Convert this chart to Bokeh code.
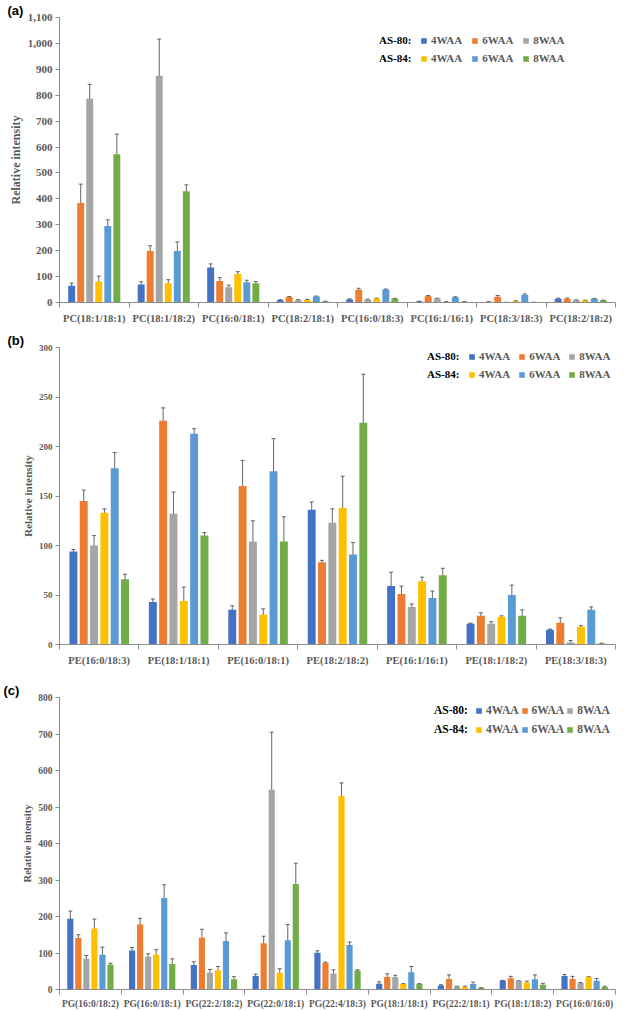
from bokeh.plotting import figure
from bokeh.layouts import column
from bokeh.models import (ColumnDataSource, Range1d, FixedTicker, Whisker, TeeHead,
                          Legend, LegendItem, NumeralTickFormatter)
from bokeh.transform import dodge
from bokeh.embed import file_html
from bokeh.resources import INLINE
import numpy as np

# ---------------- data ----------------
series_groups = ["AS-80:", "AS-84:"]
series_labels = ["4WAA", "6WAA", "8WAA", "4WAA", "6WAA", "8WAA"]
series_colors = ["#4472C4", "#ED7D31", "#A5A5A5", "#FFC000", "#5B9BD5", "#70AD47"]

pc_cats = ["PC(18:1/18:1)", "PC(18:1/18:2)", "PC(16:0/18:1)", "PC(18:2/18:1)",
           "PC(16:0/18:3)", "PC(16:1/16:1)", "PC(18:3/18:3)", "PC(18:2/18:2)"]
pc_as80_4 = [65, 69, 135, 9, 12, 4, 2, 14]
pc_as80_6 = [384, 199, 83, 21, 49, 24, 22, 14]
pc_as80_8 = [786, 875, 59, 9, 11, 15, 0.5, 9]
pc_as84_4 = [81, 74, 110, 10, 15, 2, 5, 8]
pc_as84_6 = [295, 199, 78, 23, 50, 20, 30, 14]
pc_as84_8 = [572, 429, 74, 4, 15, 2, 0.5, 8]
pc_err_as80_4 = [10, 11, 14, 2, 2, 1, 1, 3]
pc_err_as80_6 = [73, 20, 13, 2, 6, 3, 5, 3]
pc_err_as80_8 = [56, 142, 8, 2, 2, 2, 0.3, 1]
pc_err_as84_4 = [21, 14, 9, 2, 2, 1, 2, 1]
pc_err_as84_6 = [24, 35, 8, 2, 2, 2, 3, 2]
pc_err_as84_8 = [78, 25, 7, 1, 1, 1, 0.3, 1]

pe_cats = ["PE(16:0/18:3)", "PE(18:1/18:1)", "PE(16:0/18:1)", "PE(18:2/18:2)",
           "PE(16:1/16:1)", "PE(18:1/18:2)", "PE(18:3/18:3)"]
pe_as80_4 = [94, 43, 35, 136, 59, 21, 15]
pe_as80_6 = [145, 226, 160, 83, 51, 29, 22]
pe_as80_8 = [100, 132, 104, 123, 38, 21, 2]
pe_as84_4 = [133, 44, 30, 138, 64, 28, 18]
pe_as84_6 = [178, 213, 175, 91, 47, 50, 35]
pe_as84_8 = [66, 110, 104, 224, 70, 29, 1]
pe_err_as80_4 = [2, 3, 4, 8, 14, 0.5, 0.5]
pe_err_as80_6 = [11, 13, 26, 2, 8, 3, 5]
pe_err_as80_8 = [10, 22, 21, 14, 3, 2, 2]
pe_err_as84_4 = [4, 14, 6, 32, 4, 1, 1]
pe_err_as84_6 = [16, 5, 33, 12, 7, 10, 3]
pe_err_as84_8 = [5, 3, 25, 49, 7, 6, 0.3]

pg_cats = ["PG(16:0/18:2)", "PG(16:0/18:1)", "PG(22:2/18:2)", "PG(22:0/18:1)",
           "PG(22:4/18:3)", "PG(18:1/18:1)", "PG(22:2/18:1)", "PG(18:1/18:2)", "PG(16:0/16:0)"]
pg_as80_4 = [194, 107, 67, 37, 101, 16, 11, 24, 37]
pg_as80_6 = [141, 178, 142, 127, 73, 34, 29, 31, 29]
pg_as80_8 = [84, 90, 46, 547, 44, 34, 8, 23, 18]
pg_as84_4 = [167, 95, 53, 46, 530, 15, 7, 19, 34]
pg_as84_6 = [95, 251, 133, 135, 122, 47, 15, 28, 24]
pg_as84_8 = [68, 70, 28, 289, 52, 15, 4, 13, 7]
pg_err_as80_4 = [21, 8, 9, 5, 5, 5, 2, 1, 4]
pg_err_as80_6 = [9, 17, 23, 19, 2, 9, 11, 5, 7]
pg_err_as80_8 = [9, 8, 9, 158, 10, 5, 1, 1, 1]
pg_err_as84_4 = [26, 14, 10, 11, 36, 1, 2, 4, 1]
pg_err_as84_6 = [21, 36, 22, 43, 8, 16, 5, 12, 6]
pg_err_as84_8 = [4, 14, 7, 57, 2, 1, 1, 4, 2]

# ---------------- style ----------------
SERIF = "Liberation Serif"
SANS = "Liberation Sans"
AXIS_GRAY = "#8c8c8c"
TEXT_GRAY = "#595959"
SLOT = 0.13
BAR_W = 0.10
W = 634


def text_box(p, text, x, y, font, size, color):
    dummy = p.vbar(x=[0.5], top=[0], width=0.01, fill_alpha=0, line_alpha=0)
    leg = Legend(items=[LegendItem(label=text, renderers=[dummy])], location=(x, y),
                 glyph_width=0, glyph_height=1, label_standoff=0, label_height=12,
                 padding=0, margin=0, spacing=0, background_fill_alpha=0,
                 border_line_color=None, label_text_font=font, label_text_font_style="bold",
                 label_text_color=color, label_text_font_size=size)
    p.add_layout(leg)


def make_panel(tag, cats, vals, errs, ymax, ystep, cfg):
    n = len(cats)
    p = figure(width=W, height=cfg["height"], output_backend="svg", toolbar_location=None,
               x_range=Range1d(0, n), y_range=Range1d(0, ymax),
               min_border_left=cfg["bl"], min_border_right=cfg["br"],
               min_border_top=cfg["bt"], min_border_bottom=cfg["bb"])
    p.outline_line_color = None
    p.xgrid.grid_line_color = None
    p.ygrid.grid_line_color = None
    p.background_fill_color = "white"

    # panel tag as the figure title, pushed to the far left
    p.title.text = tag
    p.title.align = "left"
    p.title.offset = -(cfg["bl"] - 3)
    p.title.standoff = 0
    p.title.text_font = SANS
    p.title.text_font_style = "bold"
    p.title.text_font_size = "13px"
    p.title.text_color = "black"

    centers = list(np.arange(n) + 0.5)
    bounds = list(np.arange(n + 1).astype(float))

    rends = []
    for j in range(6):
        v = np.array(vals[j], dtype=float)
        e = np.array(errs[j], dtype=float)
        src = ColumnDataSource(dict(x=centers, top=v, upper=v + e, lower=v - e))
        off = (j - 2.5) * SLOT
        r = p.vbar(x=dodge("x", off), top="top", width=BAR_W, bottom=0, source=src,
                   fill_color=series_colors[j], line_color=None)
        rends.append(r)
        w = Whisker(source=src, base=dodge("x", off), upper="upper", lower="lower",
                    line_color="#404040", line_width=0.8,
                    upper_head=TeeHead(size=4, line_color="#404040", line_width=0.8),
                    lower_head=TeeHead(size=4, line_color="#404040", line_width=0.8))
        p.add_layout(w)

    xa = p.xaxis[0]
    xa.ticker = FixedTicker(ticks=centers, minor_ticks=bounds)
    xa.major_label_overrides = {float(c): cats[i] for i, c in enumerate(centers)}
    xa.major_tick_line_color = None
    xa.major_tick_out = 0
    xa.minor_tick_out = 5
    xa.minor_tick_in = 0
    xa.minor_tick_line_color = AXIS_GRAY
    xa.axis_line_color = AXIS_GRAY
    xa.major_label_text_font = SERIF
    xa.major_label_text_font_style = "bold"
    xa.major_label_text_color = TEXT_GRAY
    xa.major_label_text_font_size = cfg["xfs"]
    xa.major_label_standoff = cfg["xstand"]

    ya = p.yaxis[0]
    ya.ticker = FixedTicker(ticks=list(range(0, ymax + 1, ystep)))
    ya.formatter = NumeralTickFormatter(format="0,0")
    ya.axis_line_color = AXIS_GRAY
    ya.major_tick_line_color = AXIS_GRAY
    ya.major_tick_out = 4
    ya.major_tick_in = 0
    ya.minor_tick_line_color = None
    ya.major_label_text_font = SERIF
    ya.major_label_text_font_style = "bold"
    ya.major_label_text_color = TEXT_GRAY
    ya.major_label_text_font_size = cfg["yfs"]
    ya.major_label_standoff = 3
    ya.axis_label = "Relative intensity"
    ya.axis_label_text_font = SERIF
    ya.axis_label_text_font_style = "bold"
    ya.axis_label_text_color = TEXT_GRAY
    ya.axis_label_text_font_size = cfg["alfs"]
    ya.axis_label_standoff = 2

    frame_bottom = cfg["height"] - cfg["bb"]
    for g in range(2):
        yc = cfg["leg_y"][g]
        ybox = frame_bottom - yc - 6
        # group title ("AS-80:" / "AS-84:")
        text_box(p, series_groups[g], cfg["leg_x"], ybox, SERIF, cfg["lfs"], "black")
        items = [LegendItem(label=series_labels[3 * g + k], renderers=[rends[3 * g + k]])
                 for k in range(3)]
        leg = Legend(items=items, orientation="horizontal",
                     location=(cfg["leg_x"] + 41, ybox),
                     padding=0, margin=0, spacing=cfg["leg_sp"],
                     glyph_width=7, glyph_height=7, label_height=12,
                     label_standoff=4,
                     background_fill_alpha=0, border_line_color=None,
                     label_text_font=SERIF, label_text_font_style="bold",
                     label_text_color=TEXT_GRAY, label_text_font_size=cfg["lfs"])
        p.add_layout(leg)
    return p


pa = make_panel("(a)", pc_cats,
                [pc_as80_4, pc_as80_6, pc_as80_8, pc_as84_4, pc_as84_6, pc_as84_8],
                [pc_err_as80_4, pc_err_as80_6, pc_err_as80_8, pc_err_as84_4, pc_err_as84_6, pc_err_as84_8],
                1100, 100,
                dict(height=326, bl=55, br=19, bt=15, bb=24, xfs="10.5px", xstand=5, yfs="11px",
                     alfs="12px", leg_x=320, leg_y=[40, 58], leg_sp=9, lfs="11px"))
pb = make_panel("(b)", pe_cats,
                [pe_as80_4, pe_as80_6, pe_as80_8, pe_as84_4, pe_as84_6, pe_as84_8],
                [pe_err_as80_4, pe_err_as80_6, pe_err_as80_8, pe_err_as84_4, pe_err_as84_6, pe_err_as84_8],
                300, 50,
                dict(height=342, bl=55, br=17, bt=21, bb=21, xfs="10.5px", xstand=5, yfs="9px",
                     alfs="11px", leg_x=368, leg_y=[33, 51], leg_sp=8, lfs="11px"))
pc = make_panel("(c)", pg_cats,
                [pg_as80_4, pg_as80_6, pg_as80_8, pg_as84_4, pg_as84_6, pg_as84_8],
                [pg_err_as80_4, pg_err_as80_6, pg_err_as80_8, pg_err_as84_4, pg_err_as84_6, pg_err_as84_8],
                800, 100,
                dict(height=343, bl=59, br=2, bt=29, bb=16, xfs="9.5px", xstand=4, yfs="9.5px",
                     alfs="10.5px", leg_x=375, leg_y=[48, 67], leg_sp=2, lfs="11.5px"))

layout = column(pa, pb, pc, spacing=0)
open("out.html", "w").write(file_html(layout, INLINE))
